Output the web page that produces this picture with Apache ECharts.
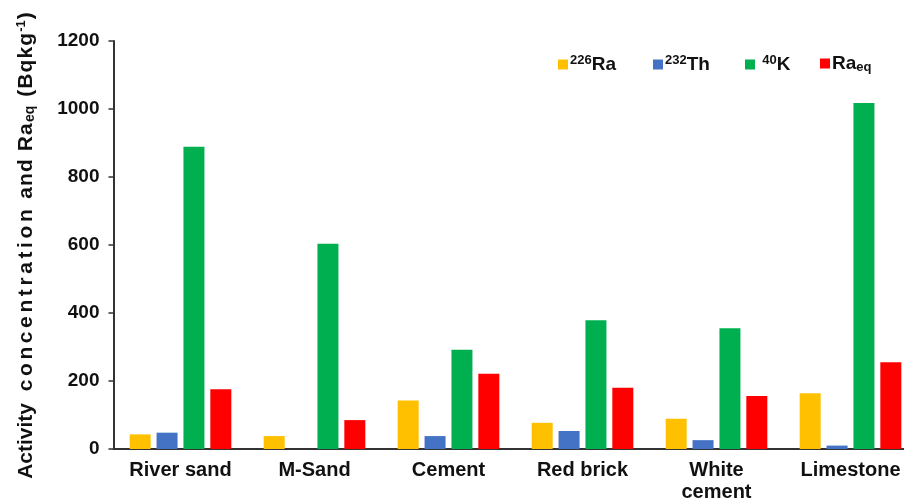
<!DOCTYPE html>
<html>
<head>
<meta charset="utf-8">
<script src="https://cdn.jsdelivr.net/npm/echarts@6/dist/echarts.min.js"></script>
<style>
  html, body { margin: 0; padding: 0; background: #fff; }
  #chart { width: 904px; height: 501px; }
</style>
</head>
<body>
<div id="chart"></div>
<script>
// Building materials (x categories)
const categories = ['River sand', 'M-Sand', 'Cement', 'Red brick', 'White\ncement', 'Limestone'];

// Activity concentrations, Bq/kg
const ra226 = [43, 38, 143, 77, 89, 164];
const th232 = [48, 0, 38, 53, 26, 10];
const k40 = [889, 604, 292, 379, 355, 1018];
const raEq = [176, 85, 221, 180, 156, 255];

// Y-axis tick settings
const yMin = 0;
const yMax = 1200;
const yStep = 200;

const FONT = '"Liberation Sans", Arial, sans-serif';
const INK = '#111';

// Legend: one entry per series, each placed on its own
const seriesKeys = ['Ra-226', 'Th-232', 'K-40', 'Ra-eq'];
const legendLabels = {
  'Ra-226': '{sup|226}{b|Ra}',
  'Th-232': '{sup|232}{b|Th}',
  'K-40': '{b| }{sup|40}{b|K}',
  'Ra-eq': '{b|Ra}{sub|eq}'
};
const legendLeft = [558, 653, 745, 820];
const legendRich = {
  sup: { fontSize: 13, fontWeight: 'bold', fontFamily: FONT, color: INK, padding: [0, 0, 8, 0] },
  b: { fontSize: 19, fontWeight: 'bold', fontFamily: FONT, color: INK },
  sub: { fontSize: 13, fontWeight: 'bold', fontFamily: FONT, color: INK, padding: [8, 0, 0, 0] }
};

// Y-axis title built token by token so the letter spacing can be set per word
function spaced(word, style) {
  return word.split('').map(ch => '{' + style + '|' + ch + '}').join('');
}
const yTitle =
  '{t|Activity  }' +
  spaced('concentration', 'w') +
  spaced(' and Ra', 'n') + '{s|eq}' +
  spaced(' (Bqkg', 'n') + '{p|-1}{n|)}';
const titleBase = { fontSize: 21, fontWeight: 'bold', fontFamily: FONT, color: INK };
const titleRich = {
  t: Object.assign({}, titleBase),
  w: Object.assign({}, titleBase, { padding: [0, 3.6, 0, 0] }),
  n: Object.assign({}, titleBase, { padding: [0, 1.1, 0, 0] }),
  s: Object.assign({}, titleBase, { fontSize: 14, padding: [9, 2, 0, 0] }),
  p: Object.assign({}, titleBase, { fontSize: 13, padding: [0, 1, 9, 0] })
};

const chart = echarts.init(document.getElementById('chart'), null, { renderer: 'canvas' });

function barSeries(name, data, color) {
  return {
    name: name,
    type: 'bar',
    data: data,
    barWidth: 21,
    barGap: '28%',
    itemStyle: { color: color },
    emphasis: { disabled: true }
  };
}

chart.setOption({
  animation: false,
  backgroundColor: '#fff',
  grid: { left: 113.5, width: 804, top: 41, bottom: 52, containLabel: false, outerBoundsMode: 'none' },
  legend: seriesKeys.map((key, i) => ({
    left: legendLeft[i],
    top: 54,
    itemWidth: 10,
    itemHeight: 10,
    icon: 'rect',
    padding: 0,
    selectedMode: false,
    formatter: function (n) { return legendLabels[n]; },
    textStyle: { rich: legendRich, padding: [0, 0, 0, -3] },
    data: [key]
  })),
  xAxis: {
    type: 'category',
    data: categories,
    axisLine: { lineStyle: { color: '#333', width: 2 } },
    axisTick: { show: false },
    axisLabel: {
      margin: 10,
      fontSize: 20,
      fontWeight: 'bold',
      fontFamily: FONT,
      color: INK,
      lineHeight: 22,
      interval: 0
    }
  },
  yAxis: {
    type: 'value',
    min: yMin,
    max: yMax,
    interval: yStep,
    splitLine: { show: false },
    axisLine: { show: true, lineStyle: { color: '#333', width: 2 } },
    axisTick: { show: true, length: 5, lineStyle: { color: '#333', width: 1.5 } },
    axisLabel: {
      margin: 14,
      fontSize: 19,
      fontWeight: 'bold',
      fontFamily: FONT,
      color: INK,
      formatter: function (v) { return String(v); }
    },
    name: yTitle,
    nameLocation: 'middle',
    nameGap: 76,
    nameRotate: 90,
    nameTextStyle: { rich: titleRich }
  },
  series: [
    barSeries(seriesKeys[0], ra226, '#FFC000'),
    barSeries(seriesKeys[1], th232, '#4472C4'),
    barSeries(seriesKeys[2], k40, '#00B050'),
    barSeries(seriesKeys[3], raEq, '#FF0000')
  ]
});
</script>
</body>
</html>
